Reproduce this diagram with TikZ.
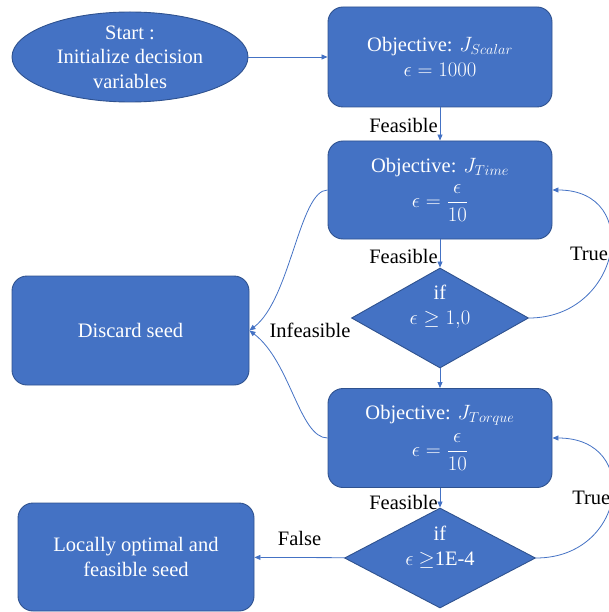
\documentclass[tikz,border=0pt]{standalone}
\usepackage{amsmath}
\usepackage{fontspec}
\setmainfont{Liberation Serif}
\newfontfamily\flfont{Liberation Serif}
\usetikzlibrary{arrows.meta,shapes.geometric}
\definecolor{flblue}{HTML}{4472C4}
\definecolor{flline}{HTML}{2F528F}

\begin{document}
\begin{tikzpicture}[x=1pt, y=-1pt,
  every node/.style={font=\flfont\fontsize{20.5}{24.5}\selectfont},
  box/.style={draw=flline, line width=0.9pt, fill=flblue, rounded corners=15pt,
    text=white, align=center, inner sep=0pt, minimum width=224pt, minimum height=100pt},
  term/.style={ellipse, draw=flline, line width=0.9pt, fill=flblue,
    text=white, align=center, inner sep=0pt, minimum width=236pt, minimum height=90pt},
  cond/.style={diamond, draw=flline, line width=0.9pt, fill=flblue,
    inner sep=0pt, minimum height=100pt},
  ctxt/.style={text=white, align=center, inner sep=0pt},
  arr/.style={-{Triangle[length=6pt,width=5pt]}, line width=0.8pt, flblue},
  lab/.style={text=black, inner sep=2pt}]
\useasboundingbox (0,0) rectangle (609,612);
\node[term] (start) at (130,57) {Start :\\Initialize decision\\variables};
\node[box] (scalar) at (440,57) {Objective: $J_{Scalar}$\\$\epsilon = 1000$};
\node[box, minimum height=98pt] (time) at (440,190)
  {Objective: $J_{Time}$\\[7pt]$\epsilon = \dfrac{\epsilon}{10}$};
\node[cond, minimum width=177pt, aspect=1.77] (chk1) at (440,318) {};
\node[ctxt] (chk1txt) at ([yshift=11pt]chk1.center) {if\\$\epsilon \geq 1{,}0$};
\node[box, minimum height=99pt] (torque) at (440,438)
  {Objective: $J_{Torque}$\\[7pt]$\epsilon = \dfrac{\epsilon}{10}$};
\node[cond, minimum width=191pt, aspect=1.91] (chk2) at (440,558) {};
\node[ctxt] (chk2txt) at ([yshift=11pt]chk2.center) {if\\$\epsilon$ $\geq$1E-4};
\node[box, minimum width=237pt, minimum height=109pt] (discard) at (130.5,330.5) {Discard seed};
\node[box, minimum width=236pt, minimum height=108pt] (done) at (136,557)
  {Locally optimal and\\feasible seed};
\node[lab, anchor=west] (infeas) at ([xshift=18pt]discard.east) {Infeasible};
% main flow
\draw[arr] (start) -- (scalar);
\draw[arr] (scalar) -- node[lab, left, pos=0.55] (f1) {Feasible} (time);
\draw[arr] (time) -- node[lab, left, pos=0.6] (f2) {Feasible} (chk1);
\draw[arr] (chk1) -- (torque);
\draw[arr] (torque) -- node[lab, left, pos=0.75] (f3) {Feasible} (chk2);
\draw[arr] (chk2) -- node[lab, above=9pt] (nope) {False} (done);
% loops back
\draw[arr] (chk1.east) to[out=0, in=0, looseness=1.8]
  node[lab, left, pos=0.5, inner sep=1pt] (yes1) {True} (time.east);
\draw[arr] (chk2.east) to[out=0, in=0, looseness=1.9]
  node[lab, left, pos=0.5, inner sep=1pt] (yes2) {True} (torque.east);
% infeasible
\draw[arr] (time.west) .. controls +(-28,0) and +(41,-31) .. (discard.east);
\draw[arr] (torque.west) .. controls +(-28,0) and +(41,31) .. (discard.east);
\end{tikzpicture}
\end{document}
